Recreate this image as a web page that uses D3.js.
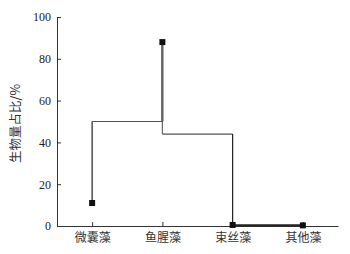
<!DOCTYPE html>
<html>
<head>
<meta charset="utf-8">
<script src="https://cdn.jsdelivr.net/npm/d3@7"></script>
<style>
  body { margin: 0; background: #fff; }
  svg { display: block; }
</style>
</head>
<body>
<svg id="chart"></svg>
<script>
var categories = ['微囊藻', '鱼腥藻', '束丝藻', '其他藻'];
var values = [11, 88, 0.5, 0.3];
// horizontal step levels joining neighbouring categories
var links = [50, 44, 0.4];
var yTicks = [0, 20, 40, 60, 80, 100];

var width = 350, height = 254;
var margin = { top: 17, right: 12, bottom: 28, left: 57 };

var svg = d3.select('#chart')
    .attr('width', width)
    .attr('height', height);

var x = d3.scalePoint()
    .domain(categories)
    .range([margin.left, width - margin.right])
    .padding(0.5);

var y = d3.scaleLinear()
    .domain([0, 100])
    .range([height - margin.bottom, margin.top]);

var axisColor = '#333';

// y axis
var yAxis = svg.append('g')
    .attr('transform', 'translate(' + margin.left + ',0)')
    .call(d3.axisLeft(y).tickValues(yTicks).tickSizeInner(-4).tickSizeOuter(0).tickPadding(6));
yAxis.select('.domain').attr('stroke', axisColor);
yAxis.selectAll('.tick line').attr('stroke', axisColor);
yAxis.selectAll('text')
    .style('font-family', '"Liberation Serif", "Times New Roman", serif')
    .style('font-size', '12px')
    .attr('fill', '#222');

// x axis
var xAxis = svg.append('g')
    .attr('transform', 'translate(0,' + (height - margin.bottom) + ')')
    .call(d3.axisBottom(x).tickSizeInner(-4).tickSizeOuter(0).tickPadding(7));
xAxis.select('.domain').attr('stroke', axisColor);
xAxis.selectAll('.tick line').attr('stroke', axisColor);
xAxis.selectAll('text')
    .style('font-family', '"Noto Sans CJK SC", sans-serif')
    .style('font-size', '12px')
    .attr('fill', '#333');

// y label
svg.append('text')
    .attr('transform', 'translate(17,' + (y(50) + 2) + ') rotate(-90)')
    .attr('text-anchor', 'middle')
    .attr('dominant-baseline', 'middle')
    .style('font-family', '"Noto Sans CJK SC", sans-serif')
    .style('font-size', '12.5px')
    .attr('fill', '#333')
    .text('生物量占比/%');

// step path through the points
var lines = svg.append('g').attr('class', 'steps').attr('fill', 'none');

links.forEach(function (level, i) {
    var a = categories[i], b = categories[i + 1];
    // vertical from point a to level
    lines.append('line')
        .attr('x1', x(a)).attr('x2', x(a))
        .attr('y1', y(values[i])).attr('y2', y(level))
        .attr('stroke', i === 1 ? '#666' : '#222')
        .attr('stroke-width', 1.2);
    // horizontal across
    lines.append('line')
        .attr('x1', x(a)).attr('x2', x(b))
        .attr('y1', y(level)).attr('y2', y(level))
        .attr('stroke', i === 2 ? '#222' : '#555')
        .attr('stroke-width', i === 2 ? 2 : 1.2);
    // vertical from level to point b
    lines.append('line')
        .attr('x1', x(b)).attr('x2', x(b))
        .attr('y1', y(level)).attr('y2', y(values[i + 1]))
        .attr('stroke', '#222')
        .attr('stroke-width', i === 0 ? 2 : 1.2);
});

// square markers
svg.append('g').selectAll('rect')
    .data(values)
    .enter()
    .append('rect')
    .attr('x', function (d, i) { return x(categories[i]) - 3; })
    .attr('y', function (d) { return y(d) - 3; })
    .attr('width', 6)
    .attr('height', 6)
    .attr('fill', '#111');
</script>
</body>
</html>
